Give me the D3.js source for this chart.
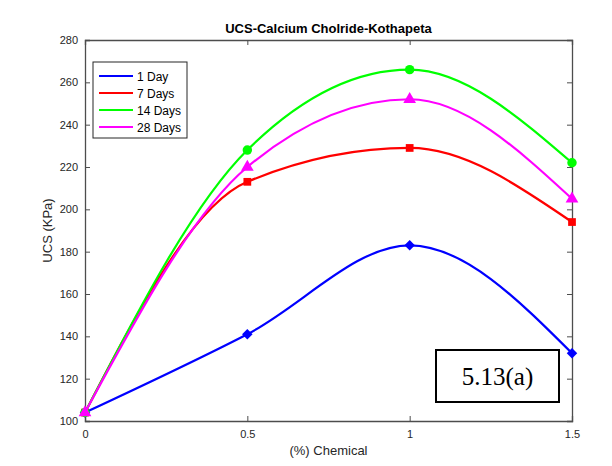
<!DOCTYPE html>
<html>
<head>
<meta charset="utf-8">
<script src="https://cdn.jsdelivr.net/npm/d3@7"></script>
<style>
  body { margin: 0; background: #fff; }
  svg { display: block; font-family: "Liberation Sans", Arial, sans-serif; }
  .tick text { fill: #262626; font-size: 11px; }
  .tick line, .domain { stroke: #4d4d4d; }
</style>
</head>
<body>
<svg id="grafico"></svg>
<script>
// valores
const teores = [0, 0.5, 1, 1.5];
const dia1 = [104, 141, 183, 132];
const dias7 = [104, 213, 229, 194];
const dias14 = [104, 228, 266, 222];
const dias28 = [104, 220, 252, 205];
const rotulos = ['1 Day', '7 Days', '14 Days', '28 Days'];
const ticksX = [0, 0.5, 1, 1.5];
const ticksY = [100, 120, 140, 160, 180, 200, 220, 240, 260, 280];

const largura = 612, altura = 466;
const margem = { esquerda: 85, direita: 40, superior: 40, inferior: 45 };
const larguraPlotagem = largura - margem.esquerda - margem.direita;
const alturaPlotagem = altura - margem.superior - margem.inferior;

const svg = d3.select('#grafico').attr('width', largura).attr('height', altura);
const plotagem = svg.append('g')
    .attr('transform', `translate(${margem.esquerda}, ${margem.superior})`);

const x = d3.scaleLinear().domain([0, 1.5]).range([0, larguraPlotagem]);
const y = d3.scaleLinear().domain([100, 280]).range([alturaPlotagem, 0]);

// eixos (ticks para dentro, como no MATLAB)
plotagem.append('g')
    .attr('transform', `translate(0, ${alturaPlotagem})`)
    .call(d3.axisBottom(x).tickValues(ticksX).tickSize(-5).tickPadding(9).tickFormat(d3.format('')));
plotagem.append('g')
    .call(d3.axisTop(x).tickValues(ticksX).tickSize(-5).tickFormat(''));
plotagem.append('g')
    .call(d3.axisLeft(y).tickValues(ticksY).tickSize(-5).tickPadding(7));
plotagem.append('g')
    .attr('transform', `translate(${larguraPlotagem}, 0)`)
    .call(d3.axisRight(y).tickValues(ticksY).tickSize(-5).tickFormat(''));
plotagem.selectAll('.domain').attr('stroke-width', 1.3);

// séries
const series = [
  { nome: rotulos[0], valores: dia1, cor: '#0000ff', marcador: d3.symbolDiamond2, tam: 70 },
  { nome: rotulos[1], valores: dias7, cor: '#ff0000', marcador: d3.symbolSquare, tam: 60 },
  { nome: rotulos[2], valores: dias14, cor: '#00ff00', marcador: d3.symbolCircle, tam: 70 },
  { nome: rotulos[3], valores: dias28, cor: '#ff00ff', marcador: d3.symbolTriangle, tam: 70 }
];

const linha = d3.line()
    .x(d => x(d[0]))
    .y(d => y(d[1]))
    .curve(d3.curveMonotoneX);

series.forEach(s => {
  const pontos = teores.map((t, i) => [t, s.valores[i]]);
  plotagem.append('path')
      .datum(pontos)
      .attr('d', linha)
      .attr('fill', 'none')
      .attr('stroke', s.cor)
      .attr('stroke-width', 2.2);
  plotagem.selectAll(null)
      .data(pontos)
      .enter().append('path')
      .attr('d', d3.symbol().type(s.marcador).size(s.tam))
      .attr('transform', d => `translate(${x(d[0])}, ${y(d[1])})`)
      .attr('fill', s.cor);
});

// legenda
const legenda = svg.append('g').attr('transform', 'translate(93, 62)');
legenda.append('rect')
    .attr('width', 94).attr('height', 76)
    .attr('fill', '#fff').attr('stroke', '#262626').attr('stroke-width', 1);
series.forEach((s, i) => {
  const yl = 14 + i * 17;
  legenda.append('line')
      .attr('x1', 6).attr('x2', 40).attr('y1', yl).attr('y2', yl)
      .attr('stroke', s.cor).attr('stroke-width', 2.2);
  legenda.append('text')
      .attr('x', 44).attr('y', yl + 4.5)
      .attr('font-size', 12).attr('fill', '#000')
      .text(s.nome);
});

// títulos
svg.append('text')
    .attr('x', margem.esquerda + larguraPlotagem / 2).attr('y', 33)
    .attr('text-anchor', 'middle').attr('font-size', 13).attr('font-weight', 'bold')
    .text('UCS-Calcium Cholride-Kothapeta');
svg.append('text')
    .attr('x', margem.esquerda + larguraPlotagem / 2).attr('y', 455)
    .attr('text-anchor', 'middle').attr('font-size', 13).attr('fill', '#262626')
    .text('(%) Chemical');
svg.append('text')
    .attr('transform', `translate(52, ${margem.superior + alturaPlotagem / 2}) rotate(-90)`)
    .attr('text-anchor', 'middle').attr('font-size', 13).attr('fill', '#262626')
    .text('UCS (KPa)');

// caixa de anotação
svg.append('rect')
    .attr('x', 436).attr('y', 350).attr('width', 123).attr('height', 52)
    .attr('fill', '#fff').attr('stroke', '#000').attr('stroke-width', 2);
svg.append('text')
    .attr('x', 497.5).attr('y', 385)
    .attr('text-anchor', 'middle').attr('font-size', 25)
    .attr('font-family', '"Liberation Serif", "Times New Roman", serif')
    .text('5.13(a)');
</script>
</body>
</html>
